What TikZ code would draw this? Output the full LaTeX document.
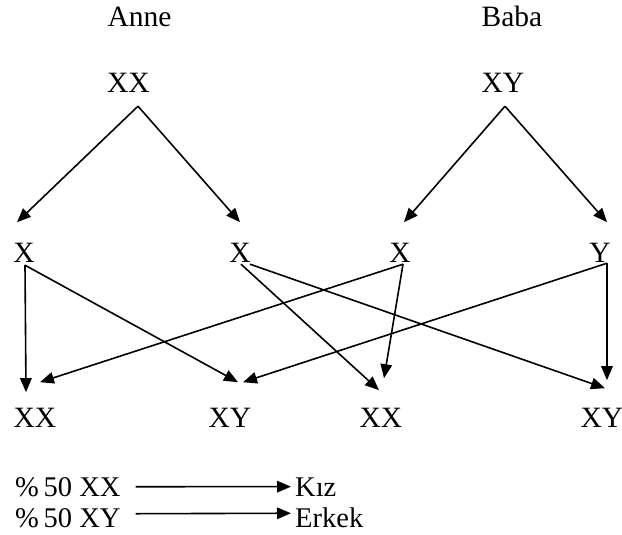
\documentclass[tikz,border=0pt]{standalone}
\usepackage{fontspec}
\setmainfont{Liberation Serif}
\usetikzlibrary{arrows.meta}
\begin{document}
\begin{tikzpicture}[x=1pt,y=-1pt,
  lbl/.style={inner sep=0pt,anchor=base,font=\fontsize{29.5}{34}\selectfont},
  leg/.style={inner sep=0pt,anchor=base west,font=\fontsize{28.5}{33}\selectfont},
  arr/.style={line width=1.6pt,-{Triangle[length=14pt,width=11.5pt]}}]
\useasboundingbox (0,0) rectangle (622,535);

% parents
\node[lbl] (anne) at (139.5,27) {Anne};
\node[lbl] (baba) at (512,27) {Baba};
\node[lbl] (xxA) at (128.5,93) {XX};
\node[lbl] (xyB) at (503,93) {XY};

% gametes
\node[lbl] (x1) at (24,262) {X};
\node[lbl] (x2) at (240,262) {X};
\node[lbl] (x3) at (400,262) {X};
\node[lbl] (yB) at (600,262) {Y};

% offspring
\node[lbl] (c1) at (35,427) {XX};
\node[lbl] (c2) at (230,427) {XY};
\node[lbl] (c3) at (381,427) {XX};
\node[lbl] (c4) at (602,427) {XY};

% parents to gametes
\draw[arr] ([shift={(9.5,13)}]xxA.south) -- ([shift={(-7,-40)}]x1.south);
\draw[arr] ([shift={(9.5,13)}]xxA.south) -- ([shift={(0,-40)}]x2.south);
\draw[arr] ([shift={(2,13)}]xyB.south) -- ([shift={(4,-40)}]x3.south);
\draw[arr] ([shift={(2,13)}]xyB.south) -- ([shift={(7,-40)}]yB.south);

% gametes to offspring
\draw[arr] ([shift={(1,3)}]x1.south) -- ([shift={(-9,-35)}]c1.south);
\draw[arr] ([shift={(1,3)}]x1.south) -- ([shift={(8,-45)}]c2.south);
\draw[arr] ([shift={(1,2)}]x2.south) -- ([shift={(-2,-37)}]c3.south);
\draw[arr] ([shift={(10,2)}]x2.south) -- ([shift={(3,-39)}]c4.south);
\draw[arr] ([shift={(3,2)}]x3.south) -- ([shift={(5,-45)}]c1.south);
\draw[arr] ([shift={(3,2)}]x3.south) -- ([shift={(3,-49)}]c3.south);
\draw[arr] ([shift={(7,1)}]yB.south) -- ([shift={(13,-45)}]c2.south);
\draw[arr] ([shift={(7,1)}]yB.south) -- ([shift={(5,-47)}]c4.south);

% legend
\node[leg] (l1) at (15,496) {\%\,50 XX};
\node[leg] (l2) at (15,527) {\%\,50 XY};
\node[leg] (k1) at (295,496) {Kız};
\node[leg] (k2) at (295,527) {Erkek};
\draw[arr] ([xshift=15]l1.east) -- ([xshift=-4]k1.west);
\draw[arr] ([shift={(15,-4)}]l2.east) -- ([shift={(-4,-4)}]k2.west);
\end{tikzpicture}
\end{document}
